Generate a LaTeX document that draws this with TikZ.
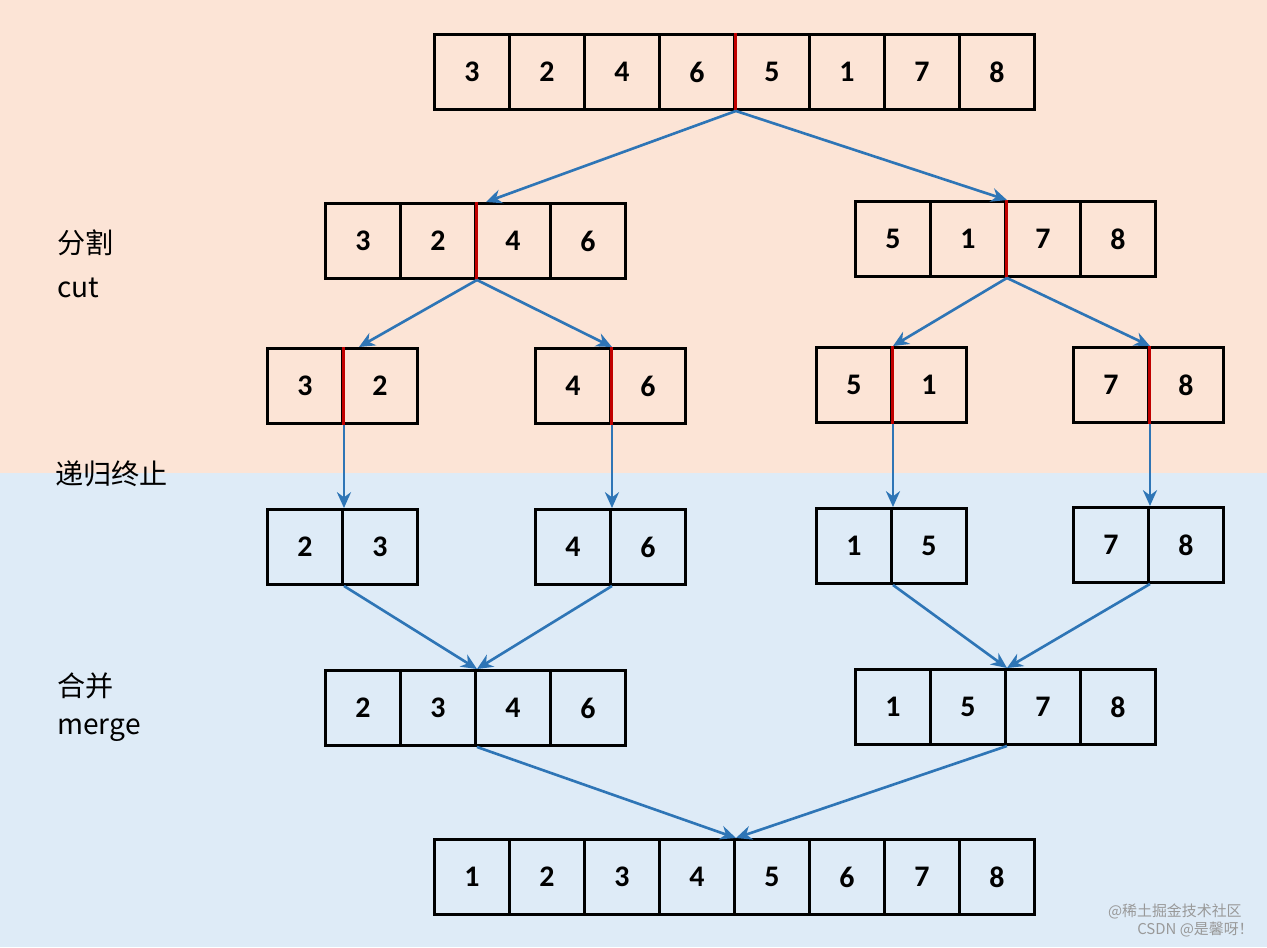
\documentclass[tikz,border=0pt]{standalone}
\usepackage{fontspec}
\setmainfont{Carlito}
\newfontfamily\cjk{Noto Sans CJK SC}
\usetikzlibrary{arrows.meta}
\definecolor{peach}{HTML}{FCE4D6}
\definecolor{lblue}{HTML}{DEEBF7}
\definecolor{arrblue}{HTML}{2E75B6}
\definecolor{divred}{HTML}{C00000}
\tikzset{
 cell/.style={draw=black,line width=1.7pt,minimum width=1.5cm,minimum height=1.5cm,anchor=north west,inner sep=0pt,font=\fontsize{17}{20}\selectfont\bfseries},
 arr/.style={draw=arrblue,line width=1.5pt,-{Stealth[length=9pt,width=8pt]}},
 red/.style={draw=divred,line width=1.7pt},
 lab/.style={font=\cjk\fontsize{16}{19}\selectfont,anchor=west,inner sep=0pt},
 wm/.style={font=\cjk\fontsize{8.5}{10}\selectfont,text=gray!80,anchor=east,inner sep=0pt}
}
\newcommand\mkarr[4]{\foreach \v [count=\i] in {#4}{\node[cell] (#1-\i) at ({#2+(\i-1)*75},#3) {\v};}}
\begin{document}
\begin{tikzpicture}[x=0.02cm,y=-0.02cm]
\useasboundingbox (0,0) rectangle (1267,947);
\fill[peach] (0,0) rectangle (1267,473);
\fill[lblue] (0,473) rectangle (1267,947);
\mkarr{t}{433}{33}{3,2,4,6,5,1,7,8}
\mkarr{l}{324}{202}{3,2,4,6}
\mkarr{r}{854}{200}{5,1,7,8}
\mkarr{a}{266}{347}{3,2}
\mkarr{b}{534}{347}{4,6}
\mkarr{c}{815}{346}{5,1}
\mkarr{d}{1072}{346}{7,8}
\mkarr{e}{266}{508}{2,3}
\mkarr{f}{534}{508}{4,6}
\mkarr{g}{815}{507}{1,5}
\mkarr{h}{1072}{506}{7,8}
\mkarr{m}{324}{669}{2,3,4,6}
\mkarr{n}{854}{668}{1,5,7,8}
\mkarr{z}{433}{838}{1,2,3,4,5,6,7,8}
\foreach \p in {t-4,l-2,r-2,a-1,b-1,c-1,d-1}{\draw[red] (\p.north east) -- (\p.south east);}
\draw[arr] (t-4.south east) -- ([xshift=0.18cm]l-2.north east);
\draw[arr] (t-4.south east) -- (r-2.north east);
\draw[arr] (l-2.south east) -- ([xshift=0.3cm]a-1.north east);
\draw[arr] (l-2.south east) -- (b-1.north east);
\draw[arr] (r-2.south east) -- (c-1.north east);
\draw[arr] (r-2.south east) -- (d-1.north east);
\draw[arr] (a-1.south east) -- (e-1.north east);
\draw[arr] (b-1.south east) -- (f-1.north east);
\draw[arr] (c-1.south east) -- (g-1.north east);
\draw[arr] (d-1.south east) -- (h-1.north east);
\draw[arr] (e-1.south east) -- (m-2.north east);
\draw[arr] (f-1.south east) -- (m-2.north east);
\draw[arr] (g-1.south east) -- (n-2.north east);
\draw[arr] (h-1.south east) -- (n-2.north east);
\draw[arr] (m-2.south east) -- (z-4.north east);
\draw[arr] (n-2.south east) -- (z-4.north east);
\node[lab] (l1) at (57,243) {分割};
\node[lab] (l2) at (57,288) {cut};
\node[lab] (l3) at (55,474) {递归终止};
\node[lab] (l4) at (57,686) {合并};
\node[lab] (l5) at (57,730) {merge};
\node[wm] (w1) at (1242,911) {@稀土掘金技术社区};
\node[wm] (w2) at (1254,930) {CSDN @是馨呀！};
\end{tikzpicture}
\end{document}
